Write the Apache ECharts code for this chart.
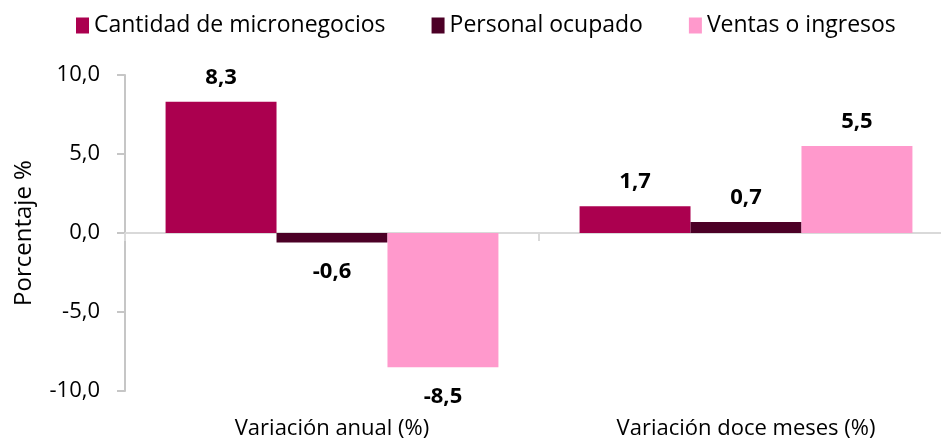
<!doctype html>
<html>
<head>
<meta charset="utf-8">
<title>Micronegocios</title>
<style>html,body{margin:0;padding:0;background:#fff;overflow:hidden}#main{width:953px;height:440px}</style>
</head>
<body>
<div id="main"></div>
<script src="https://cdn.jsdelivr.net/npm/echarts@6/dist/echarts.min.js"></script>
<script>
var categories = ['Variación anual (%)', 'Variación doce meses (%)'];
var micronegocios = [8.3, 1.7];
var personal = [-0.6, 0.7];
var ventas = [-8.5, 5.5];
var yTicks = [-10, -5, 0, 5, 10];

var font = '"Open Sans", "Noto Sans", sans-serif';
var fmt = function (v) { return v.toFixed(1).replace('.', ','); };

function barSeries(name, values, color) {
    return {
        name: name,
        type: 'bar',
        xAxisIndex: 0,
        barGap: '0%',
        barCategoryGap: '19.6%',
        itemStyle: { color: color },
        data: values.map(function (v) {
            return {
                value: v,
                label: {
                    position: v >= 0 ? 'top' : 'bottom',
                    distance: v >= 0 ? 13 : 18
                }
            };
        }),
        label: {
            show: true,
            fontFamily: font,
            fontWeight: 'bold',
            fontSize: 22,
            color: '#000',
            formatter: function (p) { return fmt(p.value); }
        }
    };
}

// the plot runs slightly past the right edge of the window, as in the original
var chart = echarts.init(document.getElementById('main'));
chart.setOption({
    animation: false,
    textStyle: { fontFamily: font },
    legend: {
        top: 9,
        left: 71,
        itemWidth: 13,
        itemHeight: 16,
        itemGap: 46,
        icon: 'rect',
        textStyle: { fontSize: 23, color: '#000', fontFamily: font }
    },
    grid: { left: 125, right: 0, top: 75, height: 316 },
    xAxis: [{
        type: 'category',
        data: categories,
        position: 'bottom',
        axisLine: { show: false, onZero: false },
        axisTick: { show: false },
        axisLabel: { fontSize: 22, color: '#000', margin: 27, fontFamily: font }
    }, {
        type: 'category',
        data: categories,
        position: 'bottom',
        axisLine: { show: true, onZero: true, onZeroAxisIndex: 0, lineStyle: { color: '#d9d9d9', width: 2 } },
        axisTick: { show: true, length: 8, inside: false, lineStyle: { color: '#d9d9d9', width: 2 } },
        axisLabel: { show: false }
    }],
    yAxis: {
        type: 'value',
        min: yTicks[0],
        max: yTicks[yTicks.length - 1],
        interval: 5,
        name: 'Porcentaje %',
        nameLocation: 'middle',
        nameGap: 89,
        nameRotate: 90,
        nameTextStyle: { fontSize: 24, color: '#000', fontFamily: font },
        axisLine: { show: true, lineStyle: { color: '#c6c6c6', width: 2 } },
        axisTick: { show: true, length: 8, lineStyle: { color: '#c6c6c6', width: 2 } },
        splitLine: { show: false },
        axisLabel: {
            fontSize: 22, color: '#000', margin: 25, fontFamily: font,
            formatter: function (v) { return fmt(v); }
        }
    },
    series: [
        barSeries('Cantidad de micronegocios', micronegocios, '#AB004F'),
        barSeries('Personal ocupado', personal, '#4C0026'),
        barSeries('Ventas o ingresos', ventas, '#FF99CC')
    ]
});
</script>
</body>
</html>
